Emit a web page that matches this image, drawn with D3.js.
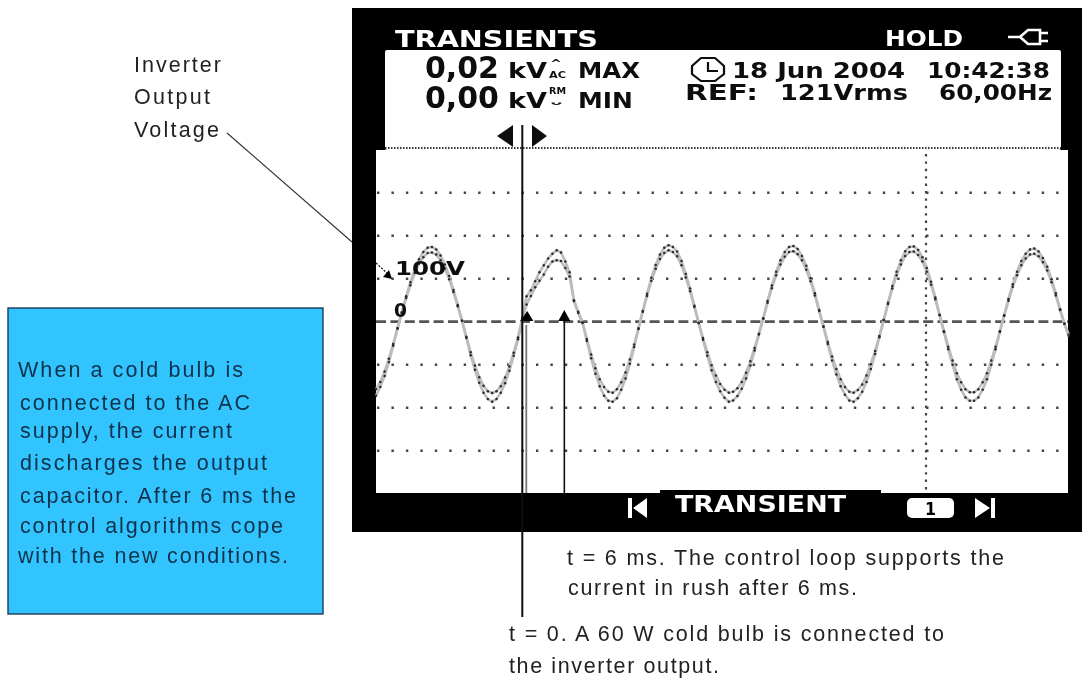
<!DOCTYPE html>
<html><head><meta charset="utf-8">
<script src="https://cdn.jsdelivr.net/npm/d3@7/dist/d3.min.js"></script>
<style>html,body{margin:0;padding:0;background:#fff}svg{display:block}</style>
</head><body><svg id="c" width="1082" height="679"></svg>
<script>
// sample spacing 0.6 ms, first sample at -20.4 ms
const firstSampleMs = -20.4, sampleStepMs = 0.6;
const upperTraceVolts = [-157,-140,-116,-86,-52,-15,
 22,59,92,122,145,162,172,174,168,154,133,106,74,39,2,
 -35,-71,-102,-129,-149,-162,-166,-162,-150,-130,-104,-72,-37,
 8,59,73,94,115,131,147,158,166,161,140,115,50,23,-1,
 -40,-76,-108,-134,-152,-163,-165,-157,-141,-118,-88,-53,-15,
 25,65,102,132,156,172,178,174,163,141,111,77,37,
 -3,-38,-71,-101,-125,-145,-158,-165,-163,-155,-140,-119,-92,-61,-28,
 8,48,84,116,143,162,174,176,169,153,130,101,66,27,
 -11,-47,-81,-110,-134,-152,-163,-165,-159,-146,-125,-99,-68,-33,
 4,44,83,116,143,164,174,175,167,150,125,93,56,16,
 -22,-58,-90,-120,-141,-157,-164,-164,-157,-141,-120,-90,-58,-22,
 15,53,87,116,141,158,168,170,163,148,128,99,66,29,
 -5,-30];
const lowerTraceVolts = [-172,-152,-126,-94,-56,-16,
 20,55,85,113,135,150,160,161,156,143,124,99,69,36,2,
 -38,-78,-112,-142,-165,-180,-186,-180,-165,-143,-114,-79,-41,
 3,40,60,80,95,110,128,140,143,141,125,105,48,20,-3,
 -45,-85,-121,-150,-172,-184,-186,-178,-158,-132,-98,-59,-17,
 23,60,95,123,146,160,166,162,152,131,103,71,34,
 -3,-42,-79,-113,-140,-162,-177,-186,-183,-173,-156,-132,-102,-67,-30,
 7,44,78,108,133,151,162,164,157,143,121,94,61,25,
 -12,-52,-90,-123,-150,-170,-183,-186,-178,-163,-140,-110,-75,-36,
 4,41,77,108,133,153,162,163,155,140,116,86,52,15,
 -24,-64,-100,-134,-158,-176,-184,-184,-176,-158,-134,-100,-64,-24,
 14,49,81,108,131,147,156,158,152,138,119,92,61,27,
 -5,-33];
const gridVolts = [-300,-200,-100,100,200,300];
const connectMs = 0, recoverMs = 6, cursorMs = 56.3;
const blueLines = ["When a cold bulb is","connected to the AC","supply, the current","discharges the output","capacitor. After 6 ms the","control algorithms cope","with the new conditions."];
const leftLabel = ["Inverter","Output","Voltage"];

const x = d3.scaleLinear().domain([-20.4,76.1]).range([376,1068]);
const y = d3.scaleLinear().domain([-400,400]).range([321.7+172,321.7-172]);
const svg = d3.select("#c");
const defs = svg.append("defs");
defs.append("filter").attr("id","soft").attr("x","-2%").attr("y","-2%").attr("width","104%").attr("height","104%")
  .append("feGaussianBlur").attr("stdDeviation",0.5);

const sans = "'Liberation Sans',Arial,sans-serif";
const bold = "'DejaVu Sans',sans-serif";
function label(g,t,xp,yp,fs,len,opt={}){
  const e=g.append("text").attr("x",xp).attr("y",yp).attr("font-size",fs)
   .attr("font-family",opt.family||sans).attr("font-weight",opt.weight||"normal")
   .attr("fill",opt.fill||"#222").text(t);
  if(len) e.attr("textLength",len).attr("lengthAdjust",opt.adjust||"spacingAndGlyphs");
  return e;
}

// scope body
const scope = svg.append("g").attr("filter","url(#soft)");
scope.append("rect").attr("x",352).attr("y",8).attr("width",730).attr("height",524).attr("fill","#000");
scope.append("rect").attr("x",385).attr("y",50).attr("width",676).attr("height",100).attr("rx",2).attr("fill","#fff");
scope.append("rect").attr("x",376).attr("y",150).attr("width",692).attr("height",343).attr("fill","#fff");
scope.append("rect").attr("x",660).attr("y",490).attr("width",221).attr("height",5).attr("fill","#000");
scope.append("line").attr("x1",385).attr("x2",1061).attr("y1",148).attr("y2",148)
  .attr("stroke","#333").attr("stroke-width",2).attr("stroke-dasharray","1.5 1.5");

// grid
scope.append("g").selectAll("line").data(gridVolts).join("line")
  .attr("x1",377).attr("x2",1062).attr("y1",d=>y(d)).attr("y2",d=>y(d))
  .attr("stroke","#444").attr("stroke-width",2.4).attr("stroke-dasharray","2.4 12.05");
scope.append("line").attr("x1",x(cursorMs)).attr("x2",x(cursorMs)).attr("y1",154).attr("y2",490)
  .attr("stroke","#444").attr("stroke-width",2.2).attr("stroke-dasharray","2.4 5");
scope.append("line").attr("x1",376).attr("x2",1068).attr("y1",y(0)).attr("y2",y(0))
  .attr("stroke","#555").attr("stroke-width",2.8).attr("stroke-dasharray","10 4.4");

// traces
const tOf = i => firstSampleMs + i*sampleStepMs;
const line = d3.line().x((d,i)=>x(tOf(i))).y(d=>y(d));
[upperTraceVolts,lowerTraceVolts].forEach(tr=>{
  scope.append("path").attr("d",line(tr)).attr("fill","none").attr("stroke","#bcbcbc").attr("stroke-width",2.6);
});
[upperTraceVolts,lowerTraceVolts].forEach(tr=>{
  scope.append("g").selectAll("circle").data(tr).join("circle")
   .attr("cx",(d,i)=>x(tOf(i))).attr("cy",d=>y(d)).attr("r",1.25).attr("fill","#2a2a2a");
});

// screen labels
const B={family:bold,weight:"bold",fill:"#fff"}, K={family:bold,weight:"bold",fill:"#111"};
label(scope,"TRANSIENTS",395,47,23,203,B);
label(scope,"HOLD",885,46,22,78,B);
scope.append("path").attr("d","M1008 37H1020L1028 30H1040V44H1028L1020 37M1040 33H1048M1040 41H1048")
  .attr("fill","none").attr("stroke","#fff").attr("stroke-width",2.6);
label(scope,"0,02",425,78,31,74,K);
label(scope,"0,00",425,108,31,74,K);
label(scope,"kV",508,78,21,39,K);
label(scope,"kV",508,108,21,39,K);
label(scope,"^",550,67,11,12,K);
label(scope,"AC",549,78,9,17,K);
label(scope,"RM",549,94,9,17,K);
label(scope,"ᵕ",550,110,14,13,K);
label(scope,"MAX",578,78,21,62,K);
label(scope,"MIN",578,108,21,55,K);
scope.append("path").attr("d","M701 58H715L724 66V74L715 81H701L692 74V66Z").attr("fill","none").attr("stroke","#111").attr("stroke-width",2.2);
scope.append("path").attr("d","M708 62V71H718").attr("fill","none").attr("stroke","#111").attr("stroke-width",2.2);
label(scope,"18 Jun 2004",732,78,21,173,K);
label(scope,"10:42:38",927,78,21,123,K);
label(scope,"REF:",685,100,21,73,K);
label(scope,"121Vrms",780,100,21,128,K);
label(scope,"60,00Hz",939,100,21,113,K);
label(scope,"100V",395,275,20,70,K);
label(scope,"0",394,317,20,13,K);
label(scope,"TRANSIENT",675,512,23,171,B);
scope.append("path").attr("d","M628 498H632V518H628ZM647 498V518L633 508Z").attr("fill","#fff");
scope.append("path").attr("d","M995 498H991V518H995ZM975 498V518L990 508Z").attr("fill","#fff");
scope.append("rect").attr("x",907).attr("y",498).attr("width",47).attr("height",20).attr("rx",5).attr("fill","#fff");
label(scope,"1",925,515,18,11,{family:bold,weight:"bold",fill:"#000"});
scope.append("path").attr("d","M497 136L513 125V147ZM547 136L532 125V147Z").attr("fill","#111");

// 100 V arrow inside the screen
scope.append("line").attr("x1",376).attr("y1",263).attr("x2",388).attr("y2",274).attr("stroke","#111").attr("stroke-width",1.2).attr("stroke-dasharray","2 1.5");
scope.append("path").attr("d","M392 279L383 277L389 270Z").attr("fill","#000");

// pointer lines and arrows
const over = svg.append("g").attr("filter","url(#soft)");
over.append("line").attr("x1",x(connectMs)+4).attr("x2",x(connectMs)+4).attr("y1",325).attr("y2",493).attr("stroke","#777").attr("stroke-width",1.8);
over.append("line").attr("x1",x(connectMs)).attr("x2",x(connectMs)).attr("y1",125).attr("y2",617).attr("stroke","#111").attr("stroke-width",2);
over.append("line").attr("x1",x(recoverMs)-1).attr("x2",x(recoverMs)-1).attr("y1",318).attr("y2",493).attr("stroke","#111").attr("stroke-width",1.6);
over.append("path").attr("d",`M${x(connectMs)+5} 311L${x(connectMs)+11} 321H${x(connectMs)-2}Z`).attr("fill","#000");
over.append("path").attr("d",`M${x(recoverMs)-1} 310L${x(recoverMs)+5} 321H${x(recoverMs)-7}Z`).attr("fill","#000");
svg.append("line").attr("x1",227).attr("y1",133).attr("x2",352).attr("y2",242).attr("stroke","#333").attr("stroke-width",1.1);

// outside text
const T = svg.append("g").attr("filter","url(#soft)");
leftLabel.forEach((t,i)=>label(T,t,134,[72,104,137][i],21.5,[87,76,85][i],{adjust:"spacing"}));
T.append("rect").attr("x",8).attr("y",308).attr("width",315).attr("height",306).attr("fill","#33c4ff").attr("stroke","#1d3d55").attr("stroke-width",1.4);
const blueY=[377,410,438,470,503,533,563], blueW=[225,230,212,247,276,263,270], blueX=[18,20,20,20,20,20,18];
blueLines.forEach((t,i)=>label(T,t,blueX[i],blueY[i],21.5,blueW[i],{adjust:"spacing",fill:"#10304a"}));
label(T,"t = 6 ms. The control loop supports the",567,565,21.5,437,{adjust:"spacing"});
label(T,"current in rush after 6 ms.",568,595,21.5,289,{adjust:"spacing"});
label(T,"t = 0. A 60 W cold bulb is connected to",509,641,21.5,435,{adjust:"spacing"});
label(T,"the inverter output.",509,673,21.5,210,{adjust:"spacing"});
</script></body></html>
